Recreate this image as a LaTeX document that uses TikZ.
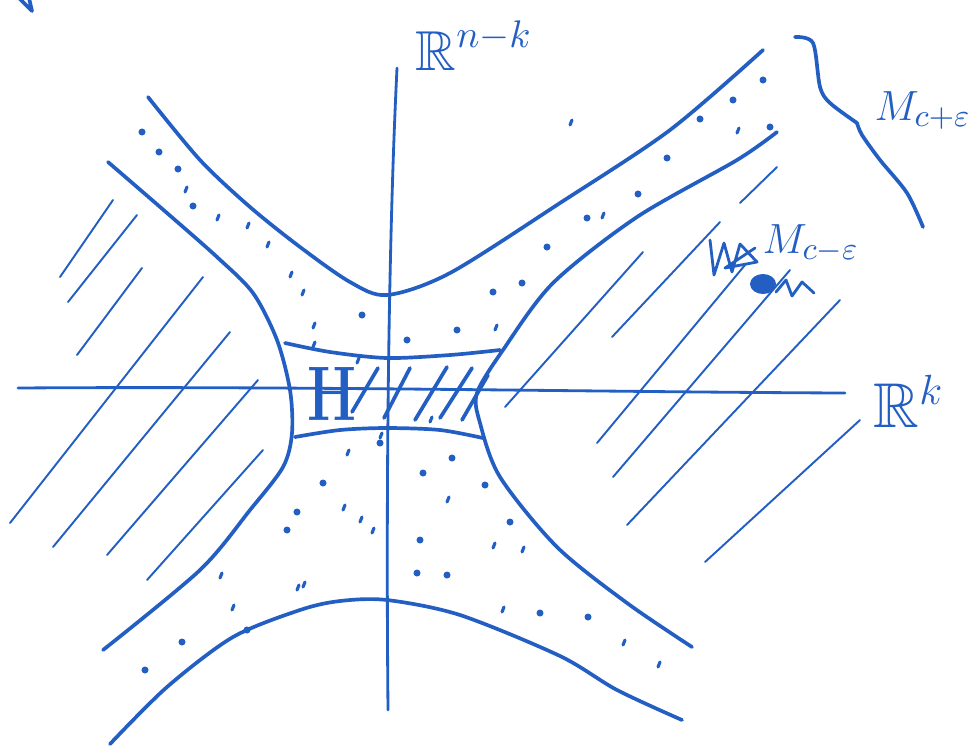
\documentclass[tikz,border=0pt]{standalone}
\usepackage{amsmath,amssymb}
\usepackage{tikz}
\usetikzlibrary{positioning}
\definecolor{ink}{RGB}{35,95,195}
\tikzset{
  curve/.style={draw=ink, line width=1.05pt, line cap=round, line join=round},
  axisline/.style={draw=ink, line width=0.8pt, line cap=round},
  hatch/.style={draw=ink, line width=0.55pt, line cap=round},
  speck/.style={draw=ink, line width=0.9pt, line cap=round},
  lbl/.style={text=ink, inner sep=0pt}
}

\begin{document}
\begin{tikzpicture}[x=0.01cm, y=-0.01cm]
  \useasboundingbox (0,0) rectangle (980,748);

  % axes
  \draw[axisline] (18,388) .. controls (300,386) and (600,392) .. (845,393);
  \draw[axisline] (397,68) .. controls (388,250) and (386,500) .. (388,710);

  % level set M_{c+eps}
  \draw[curve] plot[smooth] coordinates {(148,97) (200,160) (250,207) (300,247) (350,282) (387,295) (450,273) (560,203) (670,130) (763,50)};
  \draw[curve] plot[smooth] coordinates {(110,744) (167,687) (233,637) (300,610) (340,601) (387,600) (460,615) (560,656) (617,690) (682,720)};

  % level set M_{c-eps}
  \draw[curve] plot[smooth] coordinates {(108,162) (167,213) (217,257) (253,293) (277,340) (290,390) (292,433) (283,467) (250,510) (200,570) (103,650)};
  \draw[curve] plot[smooth] coordinates {(777,132) (737,160) (637,217) (553,283) (503,350) (477,393) (480,423) (500,477) (557,547) (627,603) (692,647)};

  % handle
  \draw[curve] plot[smooth] coordinates {(285,343) (330,352) (387,358) (450,355) (500,350)};
  \draw[curve] plot[smooth] coordinates {(295,437) (340,430) (387,428) (440,430) (483,438)};
  \foreach \a/\b/\c/\d in {352/412/378/368, 384/418/410/368, 415/420/447/367, 440/418/472/368, 462/420/488/375}
    \draw[curve] (\a,\b) -- (\c,\d);

  % hatching, left
  \foreach \a/\b/\c/\d in {60/277/113/200, 68/302/137/215, 77/355/142/268, 10/523/203/277,
      53/547/230/332, 107/555/258/380, 147/580/263/450}
    \draw[hatch] (\a,\b) -- (\c,\d);
  % hatching, right
  \foreach \a/\b/\c/\d in {505/407/643/252, 612/337/720/222, 597/443/745/265, 613/477/790/270,
      627/525/840/300, 705/562/860/420, 740/203/777/167}
    \draw[hatch] (\a,\b) -- (\c,\d);

  % specks between the level sets
  \foreach \p in {(142,132),(159,152),(178,169),(193,206),(362,315),(407,340),(457,330),(493,292),
      (522,283),(547,247),(667,158),(700,119),(733,100),(763,80),(770,127),(638,194),(587,218),
      (380,443),(323,483),(297,512),(287,530),(247,630),(182,642),(145,670),(452,458),(423,473),
      (485,485),(510,522),(420,540),(417,573),(447,575),(540,613),(588,617)}
    \fill[ink] \p circle (1pt);
  \foreach \p in {(185,192),(217,220),(247,228),(267,247),(290,277),(302,295),(313,328),(570,125),
      (737,133),(602,218),(495,330),(347,455),(343,510),(360,522),(372,533),(220,578),(232,610),
      (297,590),(303,587),(447,502),(493,548),(522,552),(502,612),(623,645),(658,667),(313,347),
      (357,363),(430,422),(380,438)}
    \draw[speck] \p -- ++(2,-5);

  % crossed out writing
  \draw[curve, line width=0.8pt] (710,240) -- (714,275) -- (724,243) -- (732,272) -- (740,244) -- (757,262) -- (725,268) -- (755,248);
  \fill[ink] (763,284) ellipse (13 and 10);
  \draw[curve, line width=0.8pt] (776,292) -- (786,280) -- (792,296) -- (802,282) -- (814,293);

  % brace
  \draw[curve] plot[smooth] coordinates {(795,37) (813,43) (820,87) (830,103) (857,123)};
  \draw[curve] plot[smooth] coordinates {(857,123) (862,135) (880,160) (907,193) (923,227)};
  \coordinate (tip) at (857,123);

  % stroke in the corner
  \draw[curve] (19,-2) -- (32,11) -- (29,-2);

  % labels
  \node[lbl, anchor=base west, font=\fontsize{16}{18}\selectfont] (rnk) at (415,70) {$\mathbb{R}^{n-k}$};
  \node[lbl, anchor=base west, font=\fontsize{18}{20}\selectfont] (rk) at (873,427) {$\mathbb{R}^{k}$};
  \node[lbl, anchor=base west, font=\fontsize{13}{15}\selectfont] (mplus) at (874,120) {$M_{c+\varepsilon}$};
  \node[lbl, anchor=base west, font=\fontsize{13}{15}\selectfont] (mminus) at (762,253) {$M_{c-\varepsilon}$};
  \node[lbl, anchor=base west, xscale=0.72, font=\fontsize{22}{24}\selectfont\bfseries] (handle) at (307,420) {H};
\end{tikzpicture}
\end{document}
